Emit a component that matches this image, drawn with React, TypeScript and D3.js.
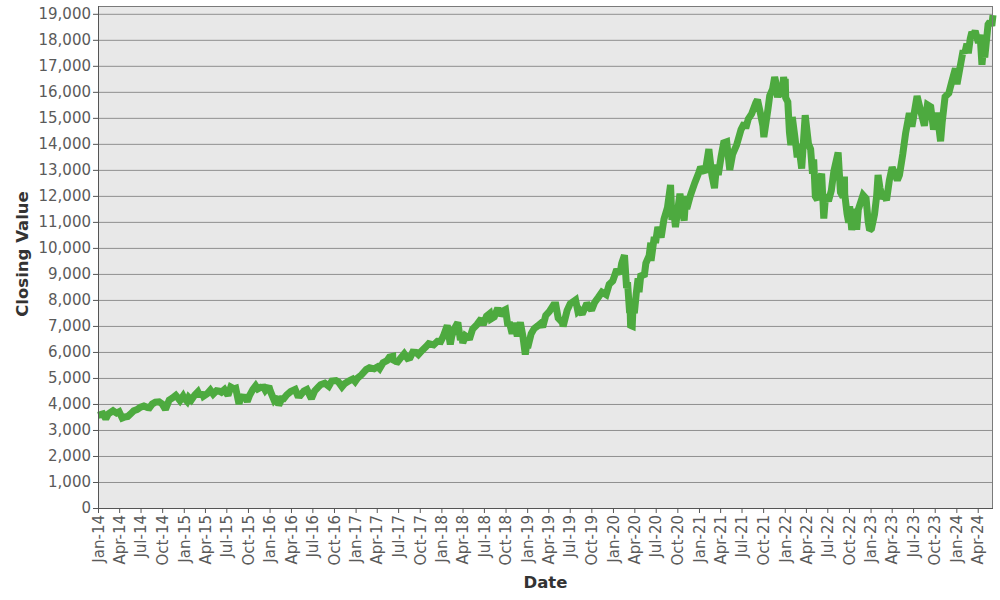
import React, { useEffect, useRef } from 'react';
import * as d3 from 'd3';

// closing values, [month-day, close] per year
const y2014: [string, number][] = [
  ["01-02", 3563], ["01-15", 3600], ["01-22", 3620], ["02-03", 3430], ["02-14", 3620], ["03-06", 3740],
  ["03-21", 3650], ["04-01", 3700], ["04-14", 3460], ["04-25", 3500], ["05-08", 3520], ["05-20", 3620],
  ["06-02", 3740], ["06-16", 3780], ["07-01", 3880], ["07-15", 3920], ["07-31", 3860], ["08-08", 3850],
  ["08-20", 4000], ["09-02", 4070], ["09-18", 4080], ["10-01", 4000], ["10-15", 3790], ["10-31", 4150],
  ["11-14", 4230], ["11-28", 4330], ["12-10", 4200], ["12-16", 4130], ["12-29", 4300],
];
const y2015: [string, number][] = [
  ["01-02", 4230], ["01-15", 4100], ["01-22", 4250], ["02-02", 4150], ["02-17", 4350], ["03-02", 4470],
  ["03-11", 4300], ["03-20", 4440], ["03-26", 4300], ["04-10", 4390], ["04-24", 4530], ["05-06", 4380],
  ["05-20", 4510], ["06-01", 4490], ["06-10", 4450], ["06-23", 4550], ["07-08", 4330], ["07-20", 4650],
  ["08-03", 4580], ["08-10", 4600], ["08-24", 4000], ["08-31", 4270], ["09-10", 4250], ["09-16", 4330],
  ["09-28", 4090], ["10-08", 4330], ["10-22", 4560], ["11-03", 4700], ["11-12", 4580], ["11-30", 4670],
  ["12-02", 4720], ["12-14", 4520], ["12-29", 4680],
];
const y2016: [string, number][] = [
  ["01-04", 4500], ["01-20", 4150], ["02-01", 4280], ["02-09", 3950], ["02-22", 4200], ["03-01", 4200],
  ["03-14", 4350], ["03-31", 4480], ["04-19", 4560], ["04-29", 4340], ["05-11", 4330], ["05-26", 4500],
  ["06-08", 4560], ["06-27", 4200], ["07-11", 4500], ["07-25", 4640], ["08-05", 4740], ["08-23", 4800],
  ["09-09", 4680], ["09-22", 4880], ["10-10", 4900], ["10-20", 4850], ["11-04", 4660], ["11-15", 4780],
  ["11-28", 4850], ["12-09", 4910], ["12-20", 4960], ["12-30", 4860],
];
const y2017: [string, number][] = [
  ["01-10", 5000], ["01-26", 5120], ["02-15", 5320], ["03-01", 5390], ["03-21", 5350], ["04-05", 5430],
  ["04-13", 5360], ["04-28", 5590], ["05-15", 5670], ["05-25", 5800], ["06-08", 5830], ["06-09", 5620],
  ["06-14", 5650], ["06-29", 5620], ["07-13", 5780], ["07-27", 5930], ["08-10", 5750], ["08-21", 5780],
  ["09-01", 5990], ["09-15", 5980], ["09-25", 5900], ["10-10", 6050], ["10-27", 6200], ["11-08", 6320],
  ["11-29", 6270], ["12-15", 6410], ["12-29", 6400],
];
const y2018: [string, number][] = [
  ["01-09", 6600], ["01-26", 7020], ["02-08", 6290], ["02-14", 6600], ["02-26", 6900], ["03-12", 7130],
  ["03-23", 6460], ["03-30", 6580], ["04-02", 6340], ["04-13", 6620], ["04-24", 6550], ["05-03", 6560],
  ["05-14", 6880], ["06-01", 7050], ["06-20", 7280], ["06-28", 7040], ["07-12", 7380], ["07-26", 7480],
  ["07-31", 7270], ["08-14", 7350], ["08-29", 7690], ["09-07", 7400], ["09-20", 7580], ["10-01", 7630],
  ["10-11", 7000], ["10-17", 7150], ["10-29", 6700], ["11-07", 7120], ["11-20", 6600], ["12-03", 7140],
  ["12-14", 6590], ["12-24", 5900], ["12-31", 6330],
];
const y2019: [string, number][] = [
  ["01-03", 6150], ["01-18", 6700], ["01-31", 6900], ["02-15", 7000], ["02-28", 7100], ["03-08", 6950],
  ["03-21", 7400], ["04-05", 7550], ["04-23", 7800], ["05-03", 7800], ["05-13", 7300], ["05-31", 7130],
  ["06-03", 6980], ["06-20", 7600], ["07-03", 7850], ["07-26", 8000], ["08-05", 7550], ["08-12", 7600],
  ["08-23", 7450], ["09-12", 7870], ["10-02", 7600], ["10-15", 7900], ["10-31", 8100], ["11-15", 8300],
  ["12-03", 8200], ["12-16", 8600], ["12-31", 8730],
];
const y2020: [string, number][] = [
  ["01-03", 8800], ["01-17", 9170], ["01-31", 9000], ["02-07", 9400], ["02-19", 9720], ["02-28", 8460],
  ["03-03", 8680], ["03-12", 7500], ["03-13", 8000], ["03-16", 7020], ["03-20", 7000], ["03-23", 6990],
  ["03-26", 7660], ["04-01", 7490], ["04-09", 8230], ["04-17", 8830], ["04-21", 8300], ["04-29", 9000],
  ["05-13", 8900], ["05-20", 9410], ["06-03", 9700], ["06-10", 10200], ["06-11", 9500], ["06-23", 10300],
  ["07-02", 10300], ["07-10", 10800], ["07-24", 10400], ["08-05", 11100], ["08-20", 11550], ["09-02", 12420],
  ["09-08", 11080], ["09-16", 11400], ["09-23", 10800], ["10-12", 12080], ["10-30", 11050], ["11-06", 12000],
  ["11-10", 11500], ["11-25", 12000], ["12-14", 12500], ["12-31", 12890],
];
const y2021: [string, number][] = [
  ["01-08", 13100], ["01-27", 12900], ["02-12", 13800], ["02-25", 12800], ["03-08", 12300], ["03-17", 13200],
  ["03-24", 12800], ["04-05", 13500], ["04-16", 14040], ["04-29", 14080], ["05-12", 13000], ["05-24", 13600],
  ["06-10", 13950], ["06-29", 14550], ["07-13", 14800], ["07-19", 14600], ["07-30", 14960], ["08-13", 15150],
  ["08-31", 15580], ["09-07", 15700], ["09-20", 15150], ["09-30", 14690], ["10-04", 14260], ["10-21", 15300],
  ["10-29", 15850], ["11-10", 16100], ["11-19", 16570], ["11-30", 16140], ["12-01", 15780], ["12-10", 16330],
  ["12-20", 15800], ["12-27", 16570], ["12-31", 16320],
];
const y2022: [string, number][] = [
  ["01-03", 16500], ["01-05", 15770], ["01-14", 15610], ["01-21", 14440], ["01-27", 13950], ["02-02", 15030],
  ["02-14", 14200], ["02-23", 13480], ["03-01", 14000], ["03-14", 13050], ["03-29", 15100], ["04-12", 14000],
  ["04-21", 13800], ["04-29", 12850], ["05-04", 13400], ["05-11", 11980], ["05-20", 11850], ["05-31", 12640],
  ["06-07", 12850], ["06-16", 11130], ["06-24", 12050], ["07-06", 11800], ["07-18", 12200], ["07-29", 12950],
  ["08-16", 13670], ["08-26", 12140], ["09-06", 11950], ["09-12", 12740], ["09-13", 12080], ["09-23", 11310],
  ["09-30", 10970], ["10-04", 11600], ["10-13", 10690], ["10-25", 11500], ["11-03", 10700], ["11-10", 11480],
  ["11-30", 12030], ["12-13", 11900], ["12-22", 11000], ["12-28", 10680],
];
const y2023: [string, number][] = [
  ["01-05", 10740], ["01-18", 11300], ["01-27", 12000], ["02-02", 12800], ["02-10", 12300], ["02-22", 11900],
  ["03-02", 12000], ["03-10", 11830], ["03-22", 12600], ["04-03", 13100], ["04-25", 12600], ["05-04", 12800],
  ["05-18", 13600], ["05-30", 14400], ["06-15", 15180], ["06-26", 14660], ["07-18", 15840], ["07-27", 15500],
  ["08-04", 15200], ["08-18", 14700], ["08-31", 15500], ["09-14", 15420], ["09-26", 14550], ["10-11", 15200],
  ["10-26", 14100], ["11-02", 14850], ["11-14", 15810], ["11-30", 15950], ["12-13", 16400], ["12-28", 16900],
];
const y2024: [string, number][] = [
  ["01-04", 16300], ["01-17", 16950], ["01-30", 17590], ["02-06", 17490], ["02-15", 17850], ["02-21", 17480],
  ["02-29", 18040], ["03-07", 18300], ["03-14", 18200], ["03-21", 18340], ["04-04", 17880], ["04-11", 18200],
  ["04-19", 17040], ["04-26", 17720], ["05-01", 17320], ["05-15", 18590], ["05-23", 18700], ["05-31", 18540],
  ["06-05", 18950],
];

const years: [number, [string, number][]][] = [
  [2014, y2014], [2015, y2015], [2016, y2016], [2017, y2017], [2018, y2018], [2019, y2019],
  [2020, y2020], [2021, y2021], [2022, y2022], [2023, y2023], [2024, y2024],
];

const yTicks = d3.range(0, 20000, 1000);

export default function App() {
  const svgRef = useRef<SVGSVGElement>(null);
  const width = 1000;
  const height = 600;

  useEffect(() => {
    if (!svgRef.current) return;
    const svg = d3.select(svgRef.current);
    svg.selectAll("*").remove();

    const parse = d3.timeParse("%Y-%m-%d");
    const data = years.flatMap(([yr, rows]) =>
      rows.map(([md, v]) => ({ date: parse(`${yr}-${md}`)!, value: v }))
    );

    const margin = { top: 6, right: 7, bottom: 92, left: 98 };
    const iWidth = width - margin.left - margin.right;
    const iHeight = height - margin.top - margin.bottom;

    const font = "DejaVu Sans, Verdana, sans-serif";
    const labelColor = "#5a5a5a";

    const x = d3.scaleTime()
      .domain([new Date(2014, 0, 1), new Date(2024, 5, 5)])
      .range([0, iWidth]);
    const y = d3.scaleLinear().domain([0, 19300]).range([iHeight, 0]);

    svg.append("rect").attr("width", width).attr("height", height).attr("fill", "#ffffff");

    const g = svg.append("g").attr("transform", `translate(${margin.left},${margin.top})`);

    g.append("rect")
     .attr("width", iWidth).attr("height", iHeight)
     .attr("fill", "#e8e8e8");

    g.selectAll(".grid")
     .data(yTicks.filter(t => t > 0)).enter().append("line")
     .attr("class", "grid")
     .attr("x1", 0).attr("x2", iWidth)
     .attr("y1", d => y(d) + 0.5).attr("y2", d => y(d) + 0.5)
     .attr("stroke", "#8f8f8f").attr("stroke-width", 1);

    const line = d3.line<{ date: Date; value: number }>()
      .x(d => x(d.date))
      .y(d => y(d.value));

    g.append("path")
     .datum(data)
     .attr("fill", "none")
     .attr("stroke", "#4daa3f")
     .attr("stroke-width", 7)
     .attr("stroke-linejoin", "miter")
     .attr("stroke-miterlimit", 2)
     .attr("d", line);

    g.append("rect")
     .attr("x", 0.5).attr("y", 0.5)
     .attr("width", iWidth - 1).attr("height", iHeight)
     .attr("fill", "none").attr("stroke", "#7a7a7a");

    const yAxisG = g.append("g")
     .call(d3.axisLeft(y).tickValues(yTicks).tickSize(5).tickSizeOuter(0).tickFormat(d3.format(",")))
     .attr("color", "#555");
    yAxisG.select(".domain").remove();
    yAxisG.selectAll("text")
     .attr("font-family", font).attr("font-size", "15px")
     .style("font-family", font).style("font-size", "15px")
     .attr("fill", labelColor).attr("x", -7);

    g.append("line")
     .attr("x1", 0.5).attr("x2", 0.5).attr("y1", 0).attr("y2", iHeight)
     .attr("stroke", "#555");
    g.append("line")
     .attr("x1", 0).attr("x2", iWidth).attr("y1", iHeight + 0.5).attr("y2", iHeight + 0.5)
     .attr("stroke", "#555");

    const xAxisG = g.append("g")
     .attr("transform", `translate(0,${iHeight})`)
     .call(d3.axisBottom(x).ticks(d3.timeMonth.every(3)).tickSize(5).tickSizeOuter(0)
       .tickFormat(d => d3.timeFormat("%b-%y")(d as Date)))
     .attr("color", "#555");
    xAxisG.select(".domain").remove();
    xAxisG.selectAll("text")
     .attr("transform", "rotate(-90)")
     .attr("x", -7).attr("y", 0).attr("dy", ".35em")
     .attr("font-family", font).attr("font-size", "15px")
     .style("text-anchor", "end")
     .style("font-family", font).style("font-size", "15px")
     .attr("fill", labelColor);

    svg.append("text")
     .attr("x", margin.left + iWidth / 2).attr("y", 588)
     .attr("text-anchor", "middle")
     .attr("font-family", font).attr("font-weight", "bold").attr("font-size", "16.5px")
     .style("font-family", font).style("font-weight", "bold").style("font-size", "16.5px")
     .attr("fill", "#333")
     .text("Date");

    svg.append("text")
     .attr("transform", `translate(28,${margin.top + iHeight / 2 - 3}) rotate(-90)`)
     .attr("text-anchor", "middle")
     .attr("font-family", font).attr("font-weight", "bold").attr("font-size", "16.5px")
     .style("font-family", font).style("font-weight", "bold").style("font-size", "16.5px")
     .attr("fill", "#333")
     .text("Closing Value");
  }, []);

  return (
    <svg ref={svgRef} width={width} height={height} viewBox={`0 0 ${width} ${height}`}
      style={{ display: "block", position: "absolute", left: 0, top: 0 }} />
  );
}
